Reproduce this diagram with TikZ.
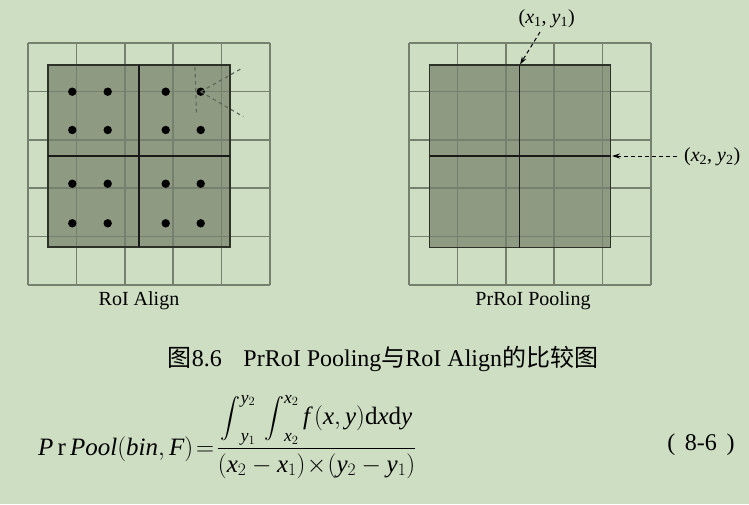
\RequirePackage{fix-cm}
\documentclass[tikz,border=0pt]{standalone}
\usepackage{amsmath}
\usepackage{graphicx}
\usepackage{fontspec}
\setmainfont{Liberation Serif}
\newfontfamily\cjk{Noto Sans CJK SC}
\usetikzlibrary{arrows.meta}
\definecolor{bgc}{RGB}{206,222,195}
\definecolor{roifill}{RGB}{142,154,130}
\definecolor{gridc}{RGB}{118,128,110}
\definecolor{edgec}{RGB}{45,50,40}
\definecolor{dashc}{RGB}{95,105,90}
\newcommand{\myint}{\mathop{\vcenter{\hbox{\scalebox{0.8}{$\displaystyle\int$}}}}\nolimits}
\tikzset{
  gridline/.style={draw=gridc, line width=1.5pt},
  roibox/.style={fill=roifill},
  roiedge/.style={draw=edgec, line width=1.5pt},
  midline/.style={draw=black!90, line width=1.5pt},
  sample/.style={circle, fill=black, inner sep=0pt, minimum size=8.4pt},
  ray/.style={draw=dashc, line width=1.2pt, dash pattern=on 3.5pt off 3.5pt},
  pointer/.style={draw=black, line width=1pt, dash pattern=on 4pt off 3pt, -{Stealth[length=8pt,width=5pt]}},
  lbl/.style={font=\fontsize{20}{24}\selectfont, inner sep=0pt},
  coord/.style={font=\fontsize{20}{24}\selectfont, inner sep=0pt},
}
\begin{document}
\begin{tikzpicture}[x=1pt,y=-1pt]
\fill[bgc] (0,0) rectangle (749,504);
\useasboundingbox (0,0) rectangle (749,504);
% ---------- left panel: RoI Align ----------
\fill[roibox] (48,65) rectangle (230,247);
\foreach \i in {0,...,5}{
  \draw[gridline] (28+\i*48.4,43) -- (28+\i*48.4,285);
  \draw[gridline] (28,43+\i*48.4) -- (270,43+\i*48.4);
}
\draw[roiedge] (48,65) rectangle (230,247);
\draw[midline] (139,65) -- (139,247);
\draw[midline] (48,156) -- (230,156);
\foreach \x/\xn in {72.3/a,107.7/b,165.7/c,200.7/d}{
  \foreach \y/\yn in {91.7/1,130/2,183.7/3,223.3/4}{
    \node[sample] (s\xn\yn) at (\x,\y) {};
  }
}
\coordinate (r1) at (243.3,67.5);
\coordinate (r2) at (243.3,116.7);
\coordinate (r3) at (195,67);
\coordinate (r4) at (196.5,115);
\draw[ray] (sd1.center) -- (r1);
\draw[ray] (sd1.center) -- (r2);
\draw[ray] (r3) -- (r4);
\node[lbl] (lblA) at (139,301) {RoI Align};
% ---------- right panel: PrRoI Pooling ----------
\fill[roibox] (429.5,65) rectangle (610.5,247.5);
\foreach \i in {0,...,5}{
  \draw[gridline] (409+\i*48.4,43) -- (409+\i*48.4,285);
  \draw[gridline] (409,43+\i*48.4) -- (651,43+\i*48.4);
}
\draw[roiedge] (429.5,65) rectangle (610.5,247.5);
\draw[midline] (519.5,65) -- (519.5,247.5);
\draw[midline] (429.5,156) -- (610.5,156);
\coordinate (tl) at (520,64.5);
\coordinate (rm) at (612,156);
\node[coord] (p1) at (546.7,19) {(\textit{x}\textsubscript{1}, \textit{y}\textsubscript{1})};
\node[coord, anchor=west] (p2) at (684,157) {(\textit{x}\textsubscript{2}, \textit{y}\textsubscript{2})};
\coordinate (p1s) at (540,32);
\coordinate (p2s) at (677,156);
\draw[pointer] (p1s) -- (tl);
\draw[pointer] (p2s) -- (rm);
\node[lbl] (lblB) at (533,301) {PrRoI Pooling};
% ---------- caption ----------
\node[font=\fontsize{24}{28}\selectfont, inner sep=0pt] (cap) at (383,359)
  {{\cjk 图}8.6\hspace{0.9em}PrRoI Pooling{\cjk 与}RoI Align{\cjk 的比较图}};
% ---------- formula ----------
\node[font=\fontsize{25}{30}\selectfont, inner sep=0pt, anchor=base west] (eq) at (38,455)
  {$\mathit{P}\,\mathrm{r}\,\mathit{Pool}(\mathit{bin},\mathit{F})\!=\!\dfrac{\myint_{\mathit{y}_1}^{\mathit{y}_2}\,\myint_{\mathit{x}_2}^{\mathit{x}_2} \mathit{f}\,(\mathit{x},\mathit{y})\mathrm{d}\mathit{x}\mathrm{d}\mathit{y}}{(\mathit{x}_2-\mathit{x}_1)\!\times\!(\mathit{y}_2-\mathit{y}_1)}$};
\node[font=\fontsize{24}{28}\selectfont, inner sep=0pt] (eqno) at (701,445)
  {(\hspace{0.4em}8-6\hspace{0.4em})};
\end{tikzpicture}
\end{document}
